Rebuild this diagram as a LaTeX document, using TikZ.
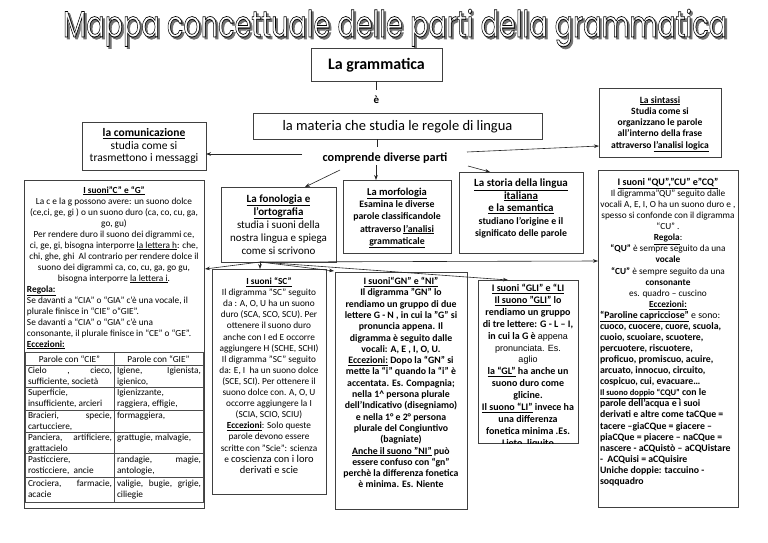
\documentclass[tikz,border=0pt]{standalone}
\usepackage{fontspec}
\setmainfont{Carlito}
\newfontfamily\arialf{Liberation Sans}
\newfontfamily\titlef{Poppins}
\usetikzlibrary{arrows.meta,calc}
\newcommand\ttltext{\resizebox{664pt}{28pt}{\titlef\fontsize{38}{40}\selectfont Mappa concettuale delle parti della grammatica}}
\newcommand\ulx[1]{\underline{#1}}
\newcommand\mybox[5]{\node[box,minimum width={(#4)-(#2)},minimum height={(#5)-(#3)}] (#1) at (#2,#3) {};}
\newcommand\cellx[4]{\node[txt,anchor=base west] (#1) at (#2,#3) {\begin{minipage}[t]{84pt}\fontsize{9.3}{11.5}\selectfont\raggedright #4\end{minipage}};}
\begin{document}
\begin{tikzpicture}[x=1pt,y=-1pt,
 box/.style={draw=black!75,line width=0.6pt,inner sep=0pt,outer sep=0pt,anchor=north west,fill=white},
 arr/.style={-{Stealth[length=5pt,width=3.6pt]},line width=0.6pt,draw=black!85},
 ln/.style={line width=0.6pt,draw=black!85},
 txt/.style={inner sep=0pt,outer sep=0pt,anchor=base},
 tl/.style={draw=black!70,line width=0.9pt}]
\useasboundingbox (0,0) rectangle (768,543);
\fill[white] (0,0) rectangle (768,543);

% title: gray shadow, white fill, black outline (stroked glyphs)
\node[txt,text=black!55] (tsh) at ($(395,37)+(2pt,-2pt)$) {\special{pdf:literal direct 2 Tr 0.8 w}\ttltext\special{pdf:literal direct 0 Tr}};
\node[txt,text=white] (title) at (395,37) {\ttltext};
\node[txt,text=black] (tol) at (395,37) {\special{pdf:literal direct 1 Tr 0.7 w}\ttltext\special{pdf:literal direct 0 Tr}};

% boxes
\mybox{gram}{311}{48}{442}{81}
\mybox{mat}{253}{113}{542}{139}
\mybox{sin}{599}{88}{721}{157}
\mybox{com}{82}{122}{206}{170}
\mybox{fon}{221}{187}{336}{262}
\mybox{mor}{343}{180}{451}{253}
\mybox{sto}{459}{172}{583}{253}
\mybox{cg}{24}{180}{204}{508}
\mybox{sc}{212}{269}{326}{494}
\mybox{gn}{335}{272}{467}{509}
\mybox{gli}{478}{280}{578}{443}
\mybox{qu}{598}{170}{738}{507}

% top texts
\node[txt,font=\bfseries\fontsize{16}{18}\selectfont] (gramT) at (376.5,70) {La grammatica};
\node[txt,font=\bfseries\fontsize{11}{13}\selectfont] (e) at (376.5,103) {è};
\node[txt,font=\fontsize{14.5}{16}\selectfont] (matT) at (397.5,130.5) {la materia che studia le regole di lingua};
\node[txt,font=\bfseries\fontsize{12.3}{14}\selectfont] (comp) at (385,161.5) {comprende diverse parti};

\node[txt] (sinT) at (660,103) {\begin{minipage}[t]{120pt}\centering\bfseries\fontsize{9.6}{11.3}\selectfont
\ulx{La sintassi}\\ Studia come si\\ organizzano le parole\\ all’interno della frase\\ attraverso \ulx{l’analisi logica}\end{minipage}};

\node[txt] (comT) at (144,136.5) {\begin{minipage}[t]{122pt}\centering\fontsize{11.5}{12.5}\selectfont
\textbf{\ulx{la comunicazione}}\\ studia come si\\ trasmettono i messaggi\end{minipage}};

\node[txt] (fonT) at (278.5,202) {\begin{minipage}[t]{112pt}\centering\fontsize{11}{13}\selectfont
\textbf{\ulx{La fonologia e}}\\ \textbf{\ulx{l’ortografia}}\\ studia i suoni della\\ nostra lingua e spiega\\ come si scrivono\end{minipage}};

\node[txt] (morT) at (397,195) {\begin{minipage}[t]{106pt}\centering\bfseries\fontsize{9.8}{12.4}\selectfont
{\fontsize{10.5}{12.4}\selectfont\ulx{La morfologia}}\\ Esamina le diverse\\ parole classificandole\\ attraverso \ulx{l’analisi}\\ \ulx{grammaticale}\end{minipage}};

\node[txt] (stoT) at (521,186.5) {\begin{minipage}[t]{122pt}\centering\bfseries\fontsize{11}{12.6}\selectfont
\ulx{La storia della lingua}\\ \ulx{italiana}\\ \ulx{e la semantica}\\ {\fontsize{9.8}{12.6}\selectfont studiano l’origine e il}\\ {\fontsize{9.8}{12.6}\selectfont significato delle parole}\end{minipage}};

% C e G
\node[txt] (cgT) at (114,193) {\begin{minipage}[t]{174pt}\fontsize{9.3}{11}\selectfont
{\centering\textbf{\ulx{I suoni”C” e “G”}}\\
La c e la g possono avere: un suono dolce\\
(ce,ci, ge, gi ) o un suono duro (ca, co, cu, ga,\\
go, gu)\\
Per rendere duro il suono dei digrammi ce,\\
ci, ge, gi, bisogna interporre \ulx{la lettera h}: che,\\
chi, ghe, ghi\ \ Al contrario per rendere dolce il\\
suono dei digrammi ca, co, cu, ga, go gu,\\
bisogna interporre \ulx{la lettera i}.\par}
{\raggedright\textbf{\ulx{Regola:}}\\
Se davanti a “CIA” o “GIA” c’è una vocale, il\\
plurale finisce in “CIE” o“GIE”.\\
Se davanti a “CIA” o “GIA” c’è una\\
consonante, il plurale finisce in “CE” o “GE”.\\
\textbf{\ulx{Eccezioni:}}\par}
\end{minipage}};

% table
\draw[tl] (25,352) rectangle (203,502);
\foreach \yy in {365,387,410,432,453,477} \draw[tl] (25,\yy) -- (203,\yy);
\draw[tl] (114,352) -- (114,502);
\node[txt,font=\fontsize{9.3}{11}\selectfont] (h1) at (69.5,362) {Parole con “CIE”};
\node[txt,font=\fontsize{9.3}{11}\selectfont] (h2) at (158.5,362) {Parole con “GIE”};
\cellx{c1a}{28}{373}{\makebox[84pt][s]{Cielo\hfill,\hfill cieco,}\\ sufficiente, società}
\cellx{c1b}{117}{373}{\makebox[84pt][s]{Igiene,\hfill Igienista,}\\ igienico,}
\cellx{c2a}{28}{395}{Superficie,\\ insufficiente, arcieri}
\cellx{c2b}{117}{395}{Igienizzante,\\ raggiera, effigie,}
\cellx{c3a}{28}{418}{\makebox[84pt][s]{Bracieri,\hfill specie,}\\ cartucciere,}
\cellx{c3b}{117}{418}{formaggiera,}
\cellx{c4a}{28}{440}{\makebox[84pt][s]{Panciera,\hfill artificiere,}\\ grattacielo}
\cellx{c4b}{117}{440}{grattugie, malvagie,}
\cellx{c5a}{28}{462}{Pasticciere,\\ rosticciere,\ \ ancie}
\cellx{c5b}{117}{462}{\makebox[84pt][s]{randagie,\hfill magie,}\\ antologie,}
\cellx{c6a}{28}{486}{\makebox[84pt][s]{Crociera,\hfill farmacie,}\\ acacie}
\cellx{c6b}{117}{486}{\makebox[84pt][s]{valigie, bugie, grigie,}\\ ciliegie}

% SC
\node[txt] (scT) at (269,284.5) {\begin{minipage}[t]{112pt}\centering\fontsize{9.3}{11.1}\selectfont
\textbf{\ulx{I suoni “SC”}}\\
Il digramma "SC" seguito\\
da : A, O, U ha un suono\\
duro (SCA, SCO, SCU). Per\\
ottenere il suono duro\\
anche con I ed E occorre\\
aggiungere H (SCHE, SCHI)\\
Il digramma "SC" seguito\\
da: E, I\ \ ha un suono dolce\\
(SCE, SCI). Per ottenere il\\
suono dolce con. A, O, U\\
occorre aggiungere la I\\
(SCIA, SCIO, SCIU)\\
\textbf{\ulx{Eccezioni}}: Solo queste\\
parole devono essere\\
scritte con "Scie": scienza\\
e {\fontsize{10.5}{11.1}\selectfont coscienza con i loro}\\
{\fontsize{10.5}{11.1}\selectfont derivati e scie}\end{minipage}};

% GN
\node[txt] (gnT) at (401,284.5) {\begin{minipage}[t]{130pt}\centering\bfseries\fontsize{9.8}{11.3}\selectfont
\ulx{I suoni“GN” e “NI”}\\
Il digramma "GN" lo\\
rendiamo un gruppo di due\\
lettere G - N , in cui la "G" si\\
pronuncia appena. Il\\
digramma è seguito dalle\\
vocali: A, E , I, O, U.\\
\ulx{Eccezioni:} Dopo la “GN” si\\
mette la “i” quando la “i” è\\
accentata. Es. Compagnia;\\
nella 1\textasciicircum{} persona plurale\\
dell’Indicativo (disegniamo)\\
e nella 1° e 2° persona\\
plurale del Congiuntivo\\
(bagniate)\\
\ulx{Anche il suono "NI"} può\\
essere confuso con “gn”\\
perchè la differenza fonetica\\
è minima. Es. Niente\end{minipage}};

% GLI
\begin{scope}
\clip (478,280) rectangle (578,443);
\node[txt] (gliT) at (528,291.5) {\begin{minipage}[t]{100pt}\centering\bfseries\fontsize{10}{11.9}\selectfont
\ulx{I suoni “GLI” e “LI}\\
\ulx{Il suono "GLI"} lo\\
rendiamo un gruppo\\
di tre lettere: G - L – I,\\
in cui la G è {\arialf\mdseries\fontsize{9}{11.9}\selectfont appena}\\
{\arialf\mdseries\fontsize{9}{11.9}\selectfont pronunciata. Es.}\\
{\arialf\mdseries\fontsize{9}{11.9}\selectfont aglio}\\
\ulx{la “GL”} ha anche un\\
suono duro come\\
glicine.\\
\ulx{Il suono “LI”} invece ha\\
una differenza\\
fonetica minima .Es.\\
Lieto, liquito\end{minipage}};
\end{scope}

% QU
\node[txt] (quT) at (668,185.5) {\begin{minipage}[t]{140pt}\centering\fontsize{9.3}{11.07}\selectfont
{\bfseries\fontsize{10}{11.07}\selectfont\ulx{I suoni “QU”,”CU” e”CQ”}}\\
Il digramma”QU” seguito dalle\\
vocali A, E, I, O ha un suono duro e ,\\
spesso si confonde con il digramma\\
“CU” .\\
\textbf{\ulx{Regola}}:\\
\textbf{“QU”} è sempre seguito da una\\
\textbf{vocale}\\
\textbf{“CU”} è sempre seguito da una\\
\textbf{consonante}\\
es. quadro – cuscino\\
\textbf{\ulx{Eccezioni:}}\end{minipage}};
\node[txt,anchor=base west] (quL) at (600,318.3) {\begin{minipage}[t]{140pt}\raggedright\bfseries\fontsize{9.8}{11.07}\selectfont
\ulx{“Paroline capricciose”} {\mdseries e sono:}\\
cuoco, cuocere, cuore, scuola,\\
cuoio, scuoiare, scuotere,\\
percuotere, riscuotere,\\
proficuo, promiscuo, acuire,\\
arcuato, innocuo, circuito,\\
cospicuo, cui, evacuare…\\
\ulx{\fontsize{8.5}{11.07}\selectfont Il suono doppio “CQU”} con le\\
parole dell’acqua e i suoi\\
derivati e altre come taCQue =\\
tacere –giaCQue = giacere –\\
piaCQue = piacere – naCQue =\\
nascere - aCQuistò – aCQUistare\\
-\ \ ACQuisi = aCQuisire\\
Uniche doppie: taccuino -\\
soqquadro\end{minipage}};

% connectors
\coordinate (eTop) at (376.5,90);
\draw[ln] (gram.south) -- (eTop);
\coordinate (matB) at (377,139);
\coordinate (compTop) at (377,147);
\draw[ln] (matB) -- (compTop);
\coordinate (comS) at (302,154);
\draw[arr] (comS) -- (com.east |- comS);
\coordinate (sinS) at (467,152);
\coordinate (sinIn) at (599,146);
\draw[arr] (sinS) -- (sinIn);
\coordinate (stoS) at (468,166);
\coordinate (stoIn) at (490,172);
\draw[arr] (stoS) -- (stoIn);
\coordinate (fonS) at (340,170);
\coordinate (fonIn) at (305,187);
\draw[arr] (fonS) -- (fonIn);
\coordinate (morS) at (376,165);
\coordinate (morIn) at (376,180);
\draw[arr] (morS) -- (morIn);
\coordinate (fan) at (260,262);
\coordinate (cgIn) at (205,269);
\coordinate (scIn) at (260,269);
\coordinate (gnIn) at (334,271);
\coordinate (gliIn) at (508,280);
\coordinate (quIn) at (598,261);
\draw[arr] (fan) -- (cgIn);
\draw[arr] (fan) -- (scIn);
\draw[arr] (fan) -- (gnIn);
\draw[arr] (fan) -- (gliIn);
\draw[arr] (fan) -- (quIn);
\end{tikzpicture}
\end{document}
